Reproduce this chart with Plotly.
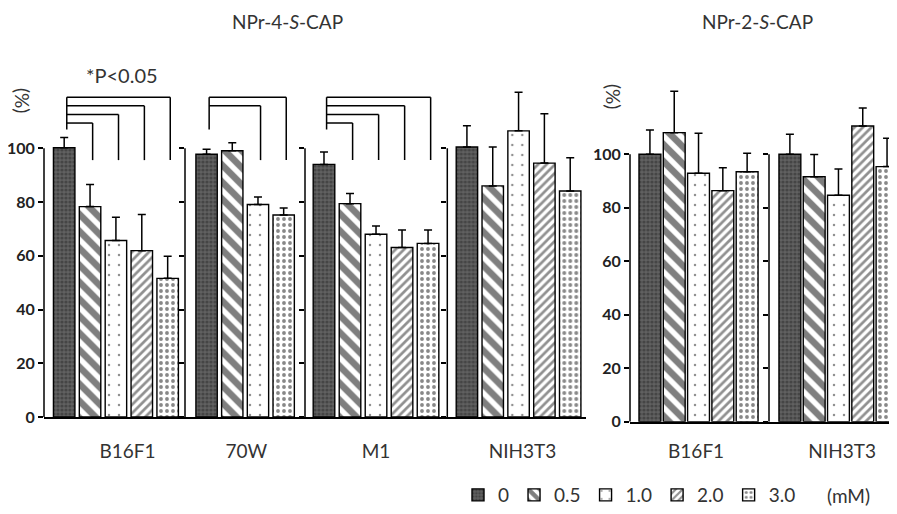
import plotly.graph_objects as go

# ---------------- data ----------------
CONCS = ["0", "0.5", "1.0", "2.0", "3.0"]
LEFT_TITLE = "NPr-4-<i>S</i>-CAP"
RIGHT_TITLE = "NPr-2-<i>S</i>-CAP"
LEFT_GROUPS = ["B16F1", "70W", "M1", "NIH3T3"]
RIGHT_GROUPS = ["B16F1", "NIH3T3"]

# NPr-4-S-CAP, viability (%) and upper error
L_B16F1 = [100.2, 78.3, 65.7, 61.9, 51.6]
L_B16F1_ERR = [3.8, 8.2, 8.6, 13.5, 8.2]
L_70W = [97.8, 99.1, 79.1, None, 75.2]
L_70W_ERR = [1.8, 3.0, 2.8, None, 2.6]
L_M1 = [94.0, 79.4, 68.0, 63.1, 64.6]
L_M1_ERR = [4.6, 3.8, 3.1, 6.5, 5.0]
L_NIH3T3 = [100.5, 86.0, 106.5, 94.5, 84.1]
L_NIH3T3_ERR = [7.9, 14.5, 14.4, 18.4, 12.4]

# NPr-2-S-CAP
R_B16F1 = [100.0, 108.1, 92.9, 86.4, 93.5]
R_B16F1_ERR = [9.1, 15.5, 15.0, 8.6, 6.9]
R_NIH3T3 = [100.0, 91.6, 84.7, 110.6, 95.4]
R_NIH3T3_ERR = [7.5, 8.3, 9.8, 6.7, 10.6]

# significant comparisons vs 0 mM (*P<0.05)
SIG_L_B16F1 = ["0.5", "1.0", "2.0", "3.0"]
SIG_L_70W = ["1.0", "3.0"]
SIG_L_M1 = ["0.5", "1.0", "2.0", "3.0"]

Y_TICKS = [0, 20, 40, 60, 80, 100]

# ---------------- styles ----------------
FONT = "Lato"
TXT = "#333333"
STYLES = {
    "0":   dict(color="#555555", pattern=dict(shape=".", fgcolor="#2a2a2a", bgcolor="#606060", size=4, solidity=0.5)),
    "0.5": dict(color="white", pattern=dict(shape="\\", fgcolor="black", bgcolor="white", size=12, solidity=0.55)),
    "1.0": dict(color="white", pattern=dict(shape=".", fgcolor="#222222", bgcolor="white", size=10, solidity=0.05)),
    "2.0": dict(color="white", pattern=dict(shape="/", fgcolor="#222222", bgcolor="white", size=6, solidity=0.45)),
    "3.0": dict(color="white", pattern=dict(shape=".", fgcolor="#111111", bgcolor="white", size=6, solidity=0.32)),
}

# page geometry: the html body adds an 8px margin, so figure px = page px - 8
OFF = 8
W, H = 889, 506
ML, MR, MT, MB = 36, 0, 52, 92


def px2x(p):
    return (p - OFF - ML) / (W - ML - MR)


def py2y(p):
    return (H - MB - (p - OFF)) / (H - MT - MB)


PLOT_TOP = MT + OFF  # page px of the top of the plot area

# (name, values, errors, significance, x-domain in page px, x-range, panel, label shift)
groups = [
    (LEFT_GROUPS[0], L_B16F1, L_B16F1_ERR, SIG_L_B16F1, (44, 185), (-0.78, 4.67), "L", 0.45),
    (LEFT_GROUPS[1], L_70W, L_70W_ERR, SIG_L_70W, (185, 305), (-0.84, 3.83), "L", 0.05),
    (LEFT_GROUPS[2], L_M1, L_M1_ERR, SIG_L_M1, (305, 447.3), (-0.73, 4.74), "L", 0.0),
    (LEFT_GROUPS[3], L_NIH3T3, L_NIH3T3_ERR, [], (447.3, 585.7), (-0.76, 4.6), "L", 0.15),
    (RIGHT_GROUPS[0], R_B16F1, R_B16F1_ERR, [], (630, 769), (-0.82, 4.9), "R", -0.1),
    (RIGHT_GROUPS[1], R_NIH3T3, R_NIH3T3_ERR, [], (769, 897), (-0.86, 4.41), "R", 0.15),
]

Y_DOMAIN = {"L": [py2y(417), 1.0], "R": [max(py2y(421.7), 0.0), 1.0]}
Y_RANGE = {"L": [0, (417 - PLOT_TOP) / 2.687], "R": [0, (421.7 - PLOT_TOP) / 2.674]}
BAR_W = {"L": 0.83, "R": 0.9}
STANDOFF = {"L": 16, "R": 12}

fig = go.Figure()
shapes = []
layout_axes = {}
shown = set()

for gi, (gname, vals, errs, sig, dom, xr, panel, lshift) in enumerate(groups):
    k = gi + 1
    xa = "x" if k == 1 else f"x{k}"
    ya = "y" if k == 1 else f"y{k}"
    pos = {}
    p = 0
    for c, v in zip(CONCS, vals):
        if v is not None:
            pos[c] = p
            p += 1
    for c, v, e in zip(CONCS, vals, errs):
        if v is None:
            continue
        st = STYLES[c]
        fig.add_trace(go.Bar(
            x=[pos[c]], y=[v], name=c, legendgroup=c,
            showlegend=c not in shown,
            xaxis=xa, yaxis=ya, width=BAR_W[panel],
            marker=dict(color=st["color"], pattern=st["pattern"],
                        line=dict(color="black", width=1.4)),
            error_y=dict(type="data", symmetric=False, array=[e], arrayminus=[0],
                         color="black", thickness=1.5, width=4),
        ))
        shown.add(c)
    center = (len(pos) - 1) / 2 + lshift
    layout_axes["xaxis" if k == 1 else f"xaxis{k}"] = dict(
        domain=[px2x(dom[0]), min(px2x(dom[1]), 1.0)], range=list(xr), anchor=ya,
        showline=True, linecolor="black", linewidth=1.5, showgrid=False, zeroline=False,
        tickvals=[center], ticktext=[gname], ticks="", ticklabelstandoff=STANDOFF[panel],
        tickfont=dict(family=FONT, size=19, color=TXT),
    )
    first = gi == 0 or gi == 4
    layout_axes["yaxis" if k == 1 else f"yaxis{k}"] = dict(
        domain=Y_DOMAIN[panel], range=Y_RANGE[panel], anchor=xa,
        showline=False, showgrid=False, zeroline=False,
        tickvals=Y_TICKS, ticks="outside", ticklen=5, tickwidth=1.5, tickcolor="black",
        showticklabels=first,
        tickfont=dict(family=FONT, size=16, color="#222222", weight="bold"),
    )
    shapes.append(dict(type="line", xref=f"{xa} domain", yref=ya, x0=0, x1=0, y0=0, y1=100,
                       line=dict(color="black", width=1.5)))
    if sig:
        n = len(sig)
        top, step = 119.0, 3.2
        left_x = 0.1
        levels = [top - step * (n - 1 - i) for i in range(n)]
        shapes.append(dict(type="line", xref=xa, yref=ya, x0=left_x, x1=left_x,
                           y0=107, y1=levels[-1], line=dict(color="black", width=1.5)))
        for c, lv in zip(sig, levels):
            rx = pos[c] + 0.1
            shapes.append(dict(type="line", xref=xa, yref=ya, x0=left_x, x1=rx, y0=lv, y1=lv,
                               line=dict(color="black", width=1.5)))
            shapes.append(dict(type="line", xref=xa, yref=ya, x0=rx, x1=rx, y0=lv, y1=95.6,
                               line=dict(color="black", width=1.5)))


def ann(text, x, y, size, angle=0):
    return dict(text=text, x=px2x(x), y=py2y(y), xref="paper", yref="paper",
                xanchor="center", yanchor="middle", textangle=angle, showarrow=False,
                font=dict(family=FONT, size=size, color=TXT))


annotations = [
    ann(LEFT_TITLE, 287, 21, 19),
    ann(RIGHT_TITLE, 757, 21, 19),
    ann("*P<0.05", 122, 75, 20),
    ann("(%)", 23, 100, 19, 90),
    ann("(%)", 613, 96, 19, 90),
    ann("(mM)", 848, 495, 19),
]

fig.update_layout(
    width=W, height=H,
    margin=dict(l=ML, r=MR, t=MT, b=MB),
    paper_bgcolor="white", plot_bgcolor="white",
    barmode="overlay",
    shapes=shapes, annotations=annotations,
    legend=dict(orientation="h", x=px2x(458), xanchor="left", y=py2y(495), yanchor="middle",
                font=dict(family=FONT, size=19, color=TXT), bgcolor="rgba(0,0,0,0)",
                itemwidth=30, traceorder="normal"),
    **layout_axes,
)

fig.write_html("out.html")
